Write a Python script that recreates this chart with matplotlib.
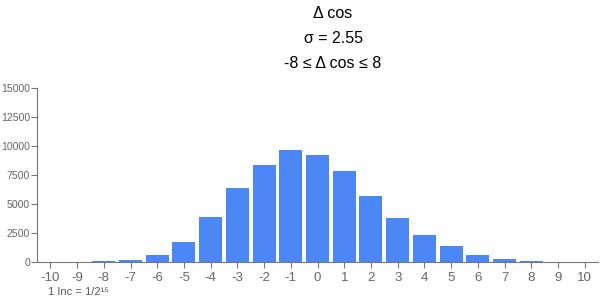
import matplotlib
matplotlib.use("Agg")
import matplotlib.pyplot as plt

plt.rcParams['font.family'] = ['Liberation Sans', 'DejaVu Sans']
plt.rcParams['axes.unicode_minus'] = False

bins = list(range(-10, 11))
counts = [0, 0, 60, 200, 630, 1750, 3880, 6350, 8360, 9650, 9220,
          7840, 5720, 3790, 2330, 1380, 630, 230, 80, 30, 0]
yticks = [0, 2500, 5000, 7500, 10000, 12500, 15000]
titles = ["\u0394 cos", "\u03c3 = 2.55", "-8 \u2264 \u0394 cos \u2264 8"]

fig = plt.figure(figsize=(6, 3), dpi=100)
ax = fig.add_axes([37 / 600, 1 - 262 / 300, 561 / 600, 174 / 300])

ax.bar(bins, counts, width=0.86, color='#4b87f6', edgecolor='none')
ax.set_xlim(-10.5, 10.5)
ax.set_ylim(0, 15000)
ax.set_xticks(bins)
ax.set_yticks(yticks)

for s in ['top', 'right']:
    ax.spines[s].set_visible(False)
for s in ['left', 'bottom']:
    ax.spines[s].set_color('#777777')
ax.tick_params(colors='#777777', labelcolor='#666666', length=4)
ax.tick_params(axis='x', labelsize=9.5)
ax.tick_params(axis='y', labelsize=7.6, pad=1)

for i, t in enumerate(titles):
    fig.text(333 / 600, 1 - (13 + 25.5 * i) / 300, t, ha='center', va='center', fontsize=11.5)

fig.text(48 / 600, 1 - 292 / 300, "1 Inc = 1/2\u00b9\u2075", ha='left', va='center',
         fontsize=8, color='#555555')

fig.savefig('out.png', dpi=100)
